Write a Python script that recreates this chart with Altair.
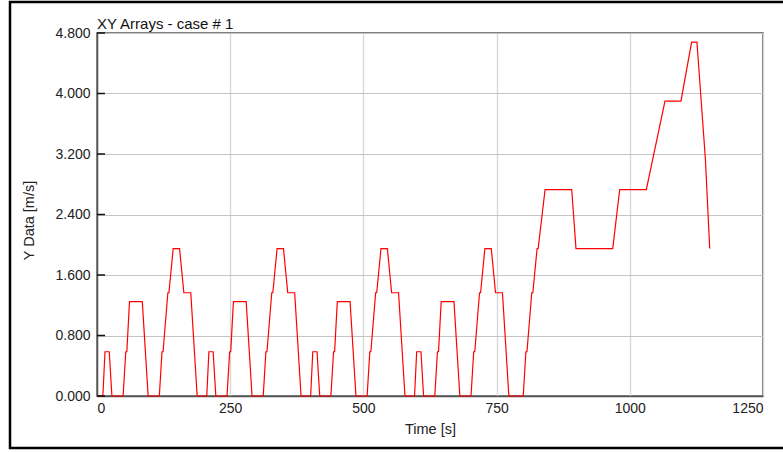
import altair as alt
import pandas as pd

# Time [s] and Y Data [m/s]
times = [
    0, 11, 15, 23, 28, 49, 54, 56, 61, 85, 96, 117, 122, 124, 133, 135, 143, 155, 163, 176, 188,
    195, 206, 210, 218, 223, 244, 249, 251, 256, 280, 291, 312, 317, 319, 328, 330, 338, 350, 358, 371, 383,
    390, 401, 405, 413, 418, 439, 444, 446, 451, 475, 486, 507, 512, 514, 523, 525, 533, 545, 553, 566, 578,
    585, 596, 600, 608, 613, 634, 639, 641, 646, 670, 681, 702, 707, 709, 718, 720, 728, 740, 748, 761, 773,
    780, 800, 805, 807, 816, 818, 826, 828, 841, 891, 899, 968, 981, 1031, 1066, 1096, 1116, 1126, 1142, 1150,
]
values = [
    0, 0, 0.585, 0.585, 0, 0, 0.585, 0.585, 1.248, 1.248, 0, 0, 0.585, 0.585, 1.365, 1.365, 1.95, 1.95, 1.365, 1.365, 0,
    0, 0, 0.585, 0.585, 0, 0, 0.585, 0.585, 1.248, 1.248, 0, 0, 0.585, 0.585, 1.365, 1.365, 1.95, 1.95, 1.365, 1.365, 0,
    0, 0, 0.585, 0.585, 0, 0, 0.585, 0.585, 1.248, 1.248, 0, 0, 0.585, 0.585, 1.365, 1.365, 1.95, 1.95, 1.365, 1.365, 0,
    0, 0, 0.585, 0.585, 0, 0, 0.585, 0.585, 1.248, 1.248, 0, 0, 0.585, 0.585, 1.365, 1.365, 1.95, 1.95, 1.365, 1.365, 0,
    0, 0, 0.585, 0.585, 1.365, 1.365, 1.95, 1.95, 2.73, 2.73, 1.95, 1.95, 2.73, 2.73, 3.9, 3.9, 4.68, 4.68, 3.12, 1.95,
]
x_ticks = [0, 250, 500, 750, 1000, 1250]
y_ticks = [0.0, 0.8, 1.6, 2.4, 3.2, 4.0, 4.8]
chart_title = "XY Arrays - case # 1"

df = pd.DataFrame({"t": times, "v": values})
ticks_df = pd.DataFrame({"v": y_ticks})
one_df = pd.DataFrame({"a": [0]})

FONT = "Liberation Sans"

xscale = alt.Scale(domain=[0, 1250], nice=False, zero=False)
yscale = alt.Scale(domain=[0, 4.8], nice=False)

line = alt.Chart(df).mark_line(color="#ff0000", strokeWidth=1.2).encode(
    x=alt.X("t:Q", scale=xscale,
            axis=alt.Axis(values=x_ticks, format="d", title="Time [s]", ticks=False,
                          gridColor="#d6d6d6", gridWidth=1.3,
                          labelPadding=5, titleY=37, titleBaseline="alphabetic",
                          titleFontSize=14.5, titleFontWeight="normal")),
    y=alt.Y("v:Q", scale=yscale,
            axis=alt.Axis(values=y_ticks, format=".3f", title="Y Data [m/s]", ticks=False,
                          gridColor="#c4c4c4", gridWidth=1,
                          labelPadding=7,
                          titleX=-64, titleY=187, titleAngle=-90,
                          titleBaseline="alphabetic", titleAlign="center",
                          titleFontSize=14.5, titleFontWeight="normal")),
)

tick_marks = alt.Chart(ticks_df).mark_rule(color="#111111", strokeWidth=1.5).encode(
    y=alt.Y("v:Q", scale=yscale),
    x=alt.value(0),
    x2=alt.value(8),
)

frame = alt.Chart(one_df).mark_rect(fillOpacity=0, stroke="#000000", strokeWidth=2.5).encode(
    x=alt.value(-87),
    x2=alt.value(700),
    y=alt.value(-31),
    y2=alt.value(415),
)

title_text = alt.Chart(one_df).mark_text(
    align="left", baseline="alphabetic", font=FONT, fontSize=15, color="#111111"
).encode(
    x=alt.value(0),
    y=alt.value(-4),
    text=alt.value(chart_title),
)

chart = alt.layer(frame, line, tick_marks, title_text).properties(
    width=666,
    height=363,
    padding={"left": 97, "top": 33, "right": 20, "bottom": 56},
    autosize=alt.AutoSizeParams(type="none"),
    background="white",
).configure_view(
    stroke="#555555", strokeWidth=1.5
).configure_axis(
    labelFont=FONT, labelFontSize=14, labelColor="#222222",
    titleFont=FONT, titleColor="#222222",
    domainColor="#555555", domainWidth=1.5,
)

chart.save("out.html", embed_options={"renderer": "svg", "actions": False})
